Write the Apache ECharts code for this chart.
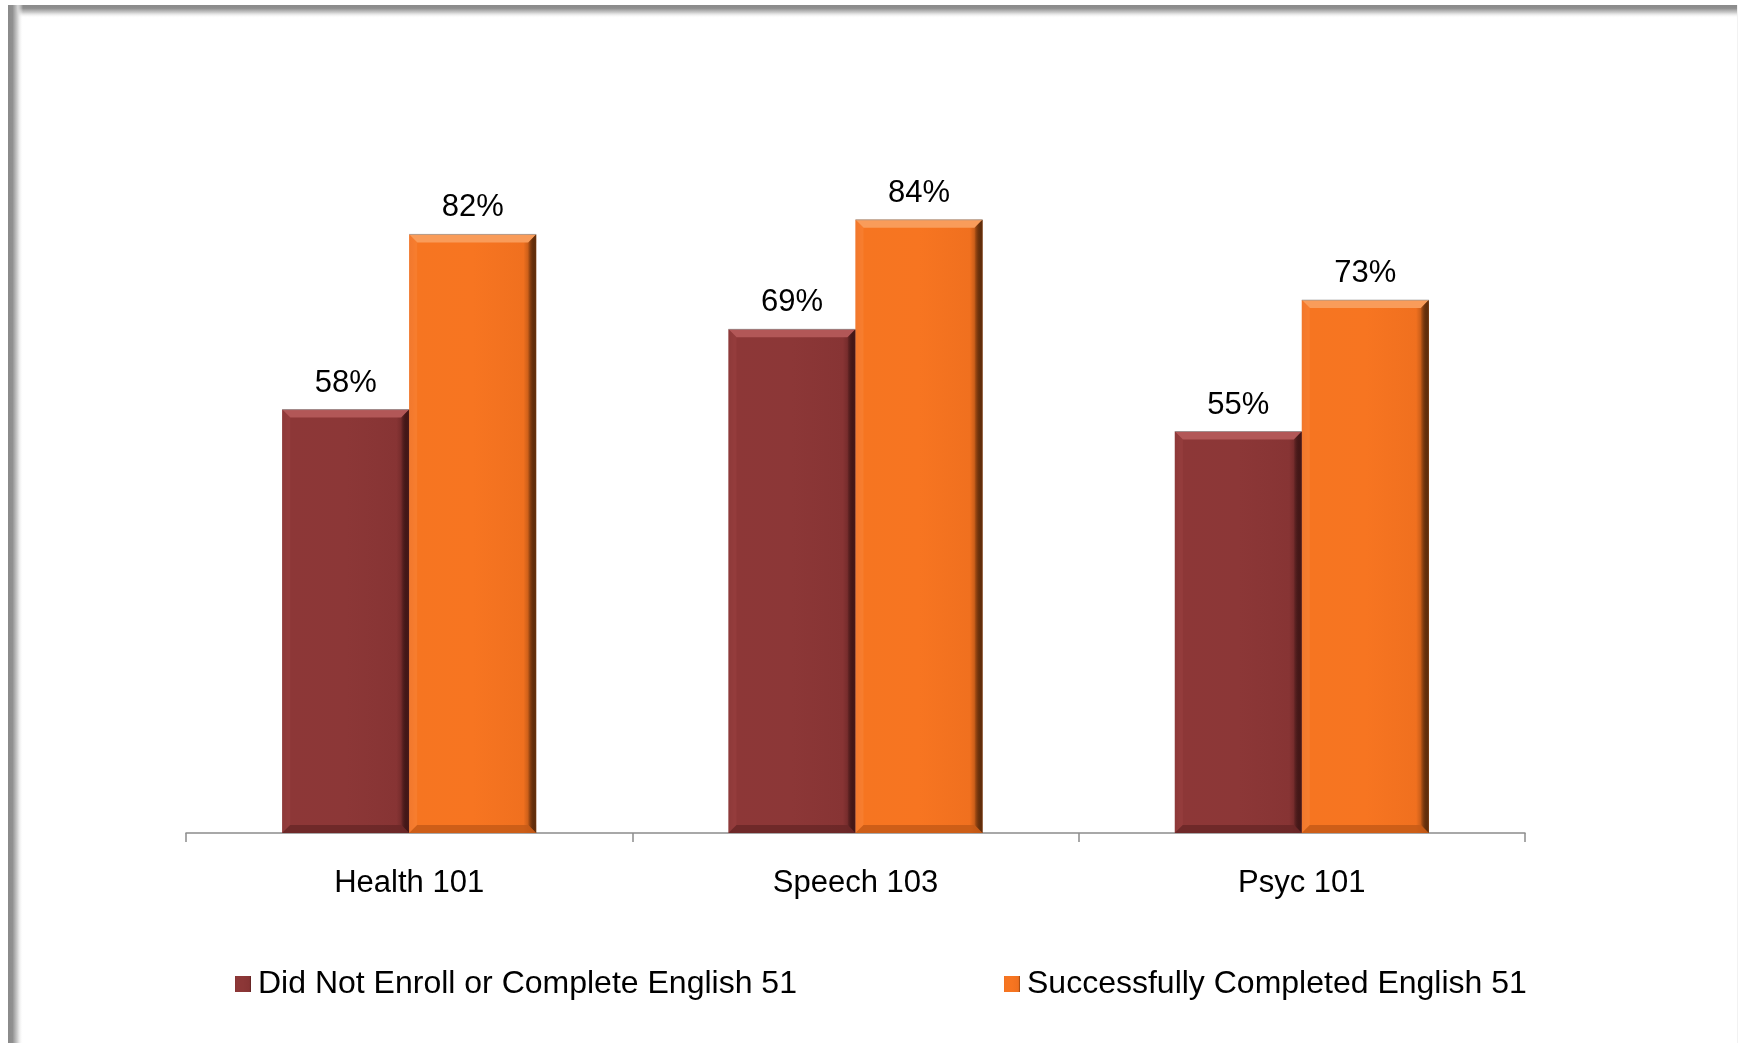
<!DOCTYPE html>
<html>
<head>
<meta charset="utf-8">
<style>
  html, body { margin: 0; padding: 0; background: #ffffff; }
  #chart { width: 1745px; height: 1043px; }
</style>
<script src="https://cdn.jsdelivr.net/npm/echarts@6/dist/echarts.min.js"></script>
</head>
<body>
<div id="chart"></div>
<script>
const categories = ['Health 101', 'Speech 103', 'Psyc 101'];
const seriesNames = ['Did Not Enroll or Complete English 51', 'Successfully Completed English 51'];
const didNotValues = [58, 69, 55];
const completedValues = [82, 84, 73];

const FONT = '"Liberation Sans", Arial, sans-serif';
const BAR_W = 127;
const BEVEL = 8;

function hGrad(stops) {
  return new echarts.graphic.LinearGradient(0, 0, 1, 0, stops.map(s => ({ offset: s[0], color: s[1] })));
}

const darkFill = hGrad([[0, '#7e2f2f'], [0.05, '#8d3737'], [0.5, '#8c3737'], [0.9, '#873434'], [1, '#5a1f1f']]);
const orangeFill = hGrad([[0, '#ea6b1d'], [0.05, '#f67521'], [0.5, '#f77521'], [0.9, '#f0701f'], [1, '#8a400f']]);

const bevelColors = [
  { top: '#b25757', left: '#9a4141', right: '#4e1a1a', bottom: '#6a2727' },
  { top: '#f99c5a', left: '#f8843a', right: '#6a320c', bottom: '#c75a16' }
];

function makeBevelRender(seriesIdx) {
  return function (params, api) {
    const idx = api.value(0);
    const top = api.coord([idx, api.value(1)]);
    const base = api.coord([idx, 0]);
    const x0 = seriesIdx === 0 ? top[0] - BAR_W : top[0];
    const x1 = x0 + BAR_W;
    const y0 = top[1];
    const y1 = base[1];
    const b = BEVEL;
    const c = bevelColors[seriesIdx];
    return {
      type: 'group',
      silent: true,
      children: [
        { type: 'polygon', shape: { points: [[x0, y0], [x1, y0], [x1 - b, y0 + b], [x0 + b, y0 + b]] },
          style: { fill: c.top } },
        { type: 'polygon', shape: { points: [[x0, y0], [x0 + b, y0 + b], [x0 + b, y1 - b], [x0, y1]] },
          style: { fill: c.left, opacity: 0.55 } },
        { type: 'polygon', shape: { points: [[x1, y0], [x1, y1], [x1 - b, y1 - b], [x1 - b, y0 + b]] },
          style: { fill: new echarts.graphic.LinearGradient(0, 0, 1, 0, [
            { offset: 0, color: 'rgba(0,0,0,0.05)' }, { offset: 1, color: c.right }]) } },
        { type: 'polygon', shape: { points: [[x0, y1], [x1, y1], [x1 - b, y1 - b], [x0 + b, y1 - b]] },
          style: { fill: c.bottom, opacity: 0.85 } },
        { type: 'line', shape: { x1: x0, y1: y0, x2: x1, y2: y0 },
          style: { stroke: 'rgba(150,150,150,0.7)', lineWidth: 1 } }
      ]
    };
  };
}

const chart = echarts.init(document.getElementById('chart'), null, { renderer: 'canvas' });

const labelStyle = {
  show: true,
  position: 'top',
  distance: 11,
  fontFamily: FONT,
  fontSize: 31,
  color: '#000000',
  formatter: p => p.value + '%'
};

const legendCommon = {
  top: 963,
  icon: 'rect', itemWidth: 16, itemHeight: 16, itemGap: 0,
  textStyle: { fontFamily: FONT, fontSize: 32, color: '#000000', padding: [0, 0, 0, 2] },
  selectedMode: false
};

chart.setOption({
  backgroundColor: '#ffffff',
  animation: false,
  textStyle: { fontFamily: FONT },
  graphic: [
    {
      type: 'rect', silent: true, z: 100,
      shape: { x: 8, y: 5, width: 1730, height: 13 },
      style: { fill: new echarts.graphic.LinearGradient(0, 0, 0, 1, [
        { offset: 0, color: '#8a8a8a' }, { offset: 0.25, color: '#8f8f8f' },
        { offset: 0.6, color: '#d0d0d0' }, { offset: 1, color: 'rgba(255,255,255,0)' }]) }
    },
    {
      type: 'rect', silent: true, z: 101,
      shape: { x: 8, y: 5, width: 15, height: 1038 },
      style: { fill: new echarts.graphic.LinearGradient(0, 0, 1, 0, [
        { offset: 0, color: '#8a8a8a' }, { offset: 0.3, color: '#909090' },
        { offset: 0.65, color: '#d4d4d4' }, { offset: 1, color: 'rgba(255,255,255,0)' }]) }
    },
    {
      type: 'rect', silent: true, z: 100,
      shape: { x: 1737, y: 5, width: 1, height: 1038 },
      style: { fill: '#f2f2f2' }
    }
  ],
  legend: [
    Object.assign({ data: [seriesNames[0]], left: 230 }, legendCommon),
    Object.assign({ data: [seriesNames[1]], left: 999 }, legendCommon)
  ],
  grid: { left: 186, right: 220, top: 103, bottom: 210, containLabel: false },
  xAxis: {
    type: 'category',
    data: categories,
    boundaryGap: true,
    axisLine: { show: true, lineStyle: { color: '#8c8c8c', width: 1.5 } },
    axisTick: { show: true, length: 9, lineStyle: { color: '#8c8c8c', width: 1.5 } },
    axisLabel: { fontFamily: FONT, fontSize: 31, color: '#000000', margin: 35 }
  },
  yAxis: {
    type: 'value',
    min: 0, max: 100,
    show: false,
    splitLine: { show: false }
  },
  series: [
    {
      name: seriesNames[0],
      type: 'bar',
      data: didNotValues,
      barWidth: BAR_W,
      barGap: '0%',
      itemStyle: { color: darkFill },
      label: labelStyle
    },
    {
      name: seriesNames[1],
      type: 'bar',
      data: completedValues,
      barWidth: BAR_W,
      barGap: '0%',
      itemStyle: { color: orangeFill },
      label: labelStyle
    },
    {
      type: 'custom',
      name: 'bevel-0',
      z: 3,
      silent: true,
      renderItem: makeBevelRender(0),
      data: didNotValues.map((v, i) => [i, v]),
      encode: { x: 0, y: 1 }
    },
    {
      type: 'custom',
      name: 'bevel-1',
      z: 3,
      silent: true,
      renderItem: makeBevelRender(1),
      data: completedValues.map((v, i) => [i, v]),
      encode: { x: 0, y: 1 }
    }
  ]
});
</script>
</body>
</html>
